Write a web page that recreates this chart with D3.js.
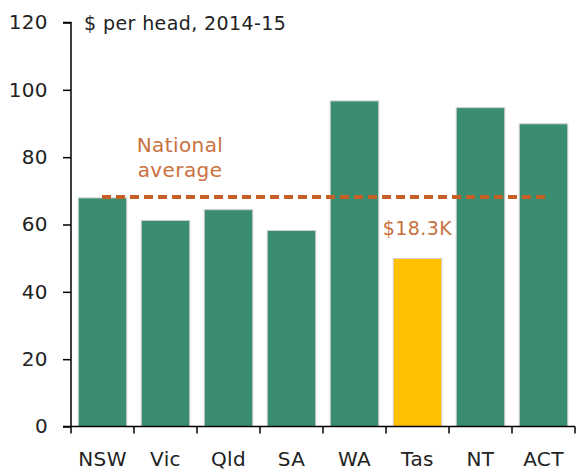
<!DOCTYPE html>
<html>
<head>
<meta charset="utf-8">
<script src="https://cdn.jsdelivr.net/npm/d3@7"></script>
<style>
  body { margin: 0; background: #fff; }
  svg text { font-family: "DejaVu Sans", sans-serif; letter-spacing: 0.4px; }
</style>
</head>
<body>
<svg id="chart" width="576" height="470"></svg>
<script>
// chart data
var states = ["NSW", "Vic", "Qld", "SA", "WA", "Tas", "NT", "ACT"];
var perHead = [67.9, 61.2, 64.4, 58.2, 96.7, 49.9, 94.7, 89.9];
var highlight = "Tas";
var nationalAvg = 68.2;
var yTicks = [0, 20, 40, 60, 80, 100, 120];

(function() {
    var svg = d3.select("#chart");
    var mLeft = 71, mRight = 575, mTop = 22.5, mBottom = 426.5;

    var x = d3.scaleBand().domain(states).range([mLeft, mRight]).paddingInner(0.23).paddingOuter(0.115);
    var xb = d3.scaleBand().domain(states).range([mLeft, mRight]);
    var y = d3.scaleLinear().domain([0, 120]).range([mBottom, mTop]);

    // bars
    svg.selectAll("rect.bar")
        .data(states).enter()
        .append("rect")
        .attr("class", "bar")
        .attr("x", function(d) { return x(d); })
        .attr("width", x.bandwidth())
        .attr("y", function(d, i) { return y(perHead[i]); })
        .attr("height", function(d, i) { return y(0) - y(perHead[i]); })
        .attr("fill", function(d) { return d == highlight ? "#ffc000" : "#3a8d6e"; })
        .attr("stroke", "#cfcfcf")
        .attr("stroke-width", 1);

    // y axis
    var yAxis = svg.append("g")
        .attr("transform", "translate(" + mLeft + ",0)")
        .call(d3.axisLeft(y).tickValues(yTicks).tickSize(8).tickPadding(15));
    yAxis.selectAll("text").style("font-size", "20px").attr("fill", "#222");
    yAxis.selectAll("line, path").attr("stroke", "#000").attr("stroke-width", 1.5);
    yAxis.select(".domain").attr("d", "M-8," + mTop + "H0V" + mBottom);

    // x axis, ticks between categories
    var xAxis = svg.append("g").attr("transform", "translate(0," + mBottom + ")");
    xAxis.append("line")
        .attr("x1", mLeft - 8).attr("x2", mRight)
        .attr("stroke", "#000").attr("stroke-width", 1.5);
    var bounds = states.map(function(d) { return xb(d); }).concat([mRight]);
    xAxis.selectAll("line.tick")
        .data(bounds).enter()
        .append("line")
        .attr("class", "tick")
        .attr("x1", function(d) { return d; })
        .attr("x2", function(d) { return d; })
        .attr("y2", 7)
        .attr("stroke", "#000").attr("stroke-width", 1.5);
    xAxis.selectAll("text")
        .data(states).enter()
        .append("text")
        .attr("x", function(d) { return xb(d) + xb.bandwidth() / 2; })
        .attr("y", 39)
        .attr("text-anchor", "middle")
        .style("font-size", "20px")
        .attr("fill", "#222")
        .text(function(d) { return d; });

    // national average line
    svg.append("line")
        .attr("x1", xb("NSW") + 31).attr("x2", xb("ACT") + 33)
        .attr("y1", y(nationalAvg)).attr("y2", y(nationalAvg))
        .attr("stroke", "#c65f26")
        .attr("stroke-width", 4)
        .attr("stroke-dasharray", "9,5");

    svg.append("text")
        .attr("x", 180).attr("y", 152)
        .attr("text-anchor", "middle")
        .attr("fill", "#c8713e")
        .style("font-size", "20px")
        .text("National");
    svg.append("text")
        .attr("x", 180).attr("y", 177)
        .attr("text-anchor", "middle")
        .attr("fill", "#c8713e")
        .style("font-size", "20px")
        .text("average");

    // Tas label
    svg.append("text")
        .attr("x", xb("Tas") + xb.bandwidth() / 2).attr("y", 235)
        .attr("text-anchor", "middle")
        .attr("fill", "#c8713e")
        .style("font-size", "19px")
        .text("$18.3K");

    // unit label
    svg.append("text")
        .attr("x", 84).attr("y", 30)
        .attr("fill", "#222")
        .style("font-size", "19px")
        .text("$ per head, 2014-15");
})();
</script>
</body>
</html>
